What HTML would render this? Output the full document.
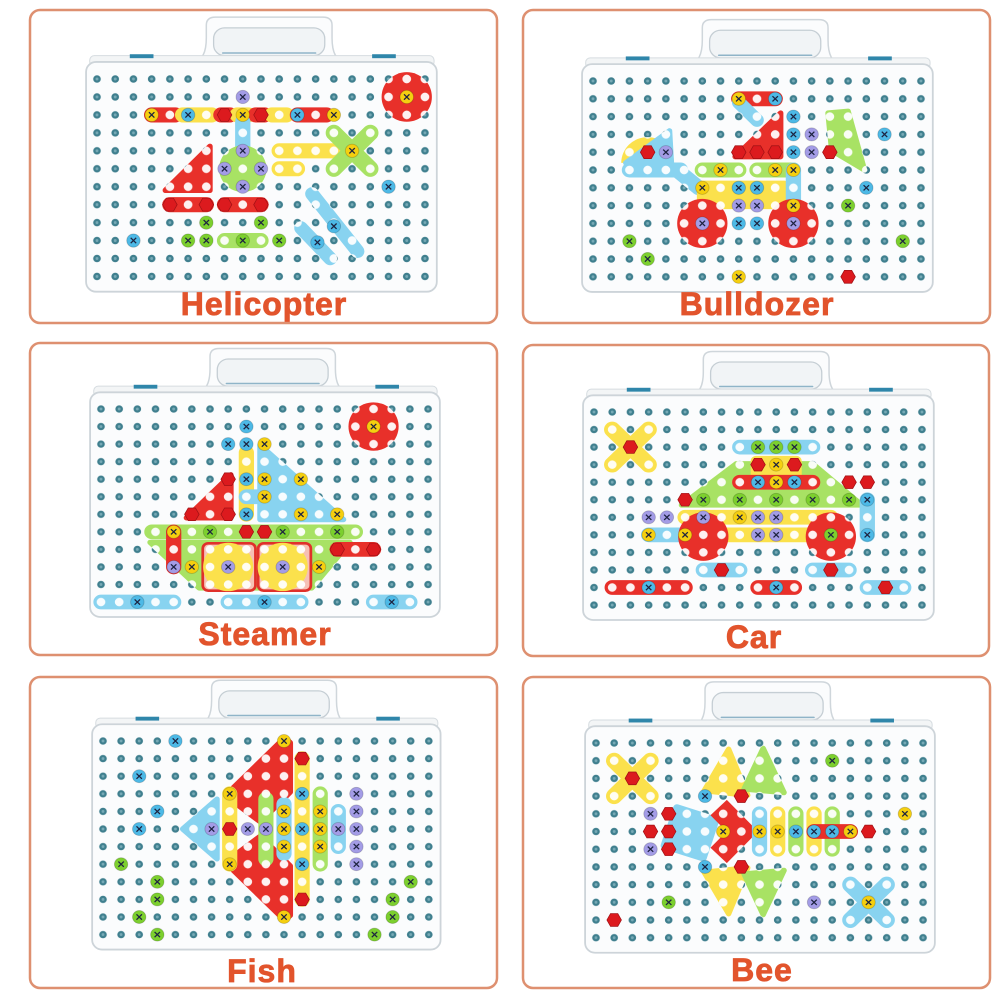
<!DOCTYPE html>
<html><head><meta charset="utf-8"><style>
html,body{margin:0;padding:0;background:#fff;}
svg{display:block}
line{stroke-width:.84;stroke-linecap:round}
.lr{stroke:#e8302a}.ly{stroke:#fbe14c}.lg{stroke:#a8e264}.lc{stroke:#88d3f0}
.r{fill:#e8302a}.y{fill:#fbe14c}.g{fill:#a8e264}.c{fill:#88d3f0}
.pr{fill:#e8302a;stroke:#e8302a;stroke-width:.3;stroke-linejoin:round}
.py{fill:#fbe14c;stroke:#fbe14c;stroke-width:.3;stroke-linejoin:round}
.pg{fill:#a8e264;stroke:#a8e264;stroke-width:.3;stroke-linejoin:round}
.pc{fill:#88d3f0;stroke:#88d3f0;stroke-width:.3;stroke-linejoin:round}
.sy{fill:#f5cf10}.sc{fill:#4db9e6}.sg{fill:#7ccf2e}.sp{fill:#a39ce6}
.bd{fill:none;stroke:#de9070;stroke-width:2.5}
.lb{font-family:"Liberation Sans",sans-serif;font-weight:bold;font-size:32px;fill:#e2542c;stroke:#e2542c;stroke-width:.8px;letter-spacing:1px}
</style></head><body>
<svg width="1000" height="1000" viewBox="0 0 1000 1000" xmlns="http://www.w3.org/2000/svg">
<defs>
<pattern id="dots" patternUnits="userSpaceOnUse" x="-0.5" y="-0.5" width="1" height="1"><circle cx=".5" cy=".5" r=".21" fill="#3f7f8e"/><circle cx=".5" cy=".5" r=".08" fill="#77aab6"/></pattern>
<pattern id="hp" patternUnits="userSpaceOnUse" x="-0.5" y="-0.5" width="1" height="1"><rect width="1" height="1" fill="#fff"/><circle cx=".5" cy=".5" r=".24" fill="#111"/></pattern>
<mask id="holes" maskUnits="userSpaceOnUse" x="-4" y="-5" width="28" height="20"><rect x="-4" y="-5" width="28" height="20" fill="url(#hp)"/></mask>
<filter id="wh"><feFlood flood-color="#ffffff"/><feComposite in2="SourceAlpha" operator="in"/></filter>
<g id="s"><circle r=".37" stroke="rgba(0,0,0,.18)" stroke-width=".05"/><path d="M-.15-.15L.15.15M.15-.15L-.15.15" stroke="#1d2340" stroke-width=".07" fill="none"/></g>
<polygon id="n" points=".4,0 .2,.36 -.2,.36 -.4,0 -.2,-.36 .2,-.36" fill="#dc1a1e" stroke="#a01014" stroke-width=".04"/>
<g id="case">
<path d="M5.2,-0.9 C5.8,-1.0 6.0,-1.5 6.0,-2.3 L6.0,-3.0 Q6.0,-3.45 6.5,-3.45 L12.4,-3.45 Q12.9,-3.45 12.9,-3.0 L12.9,-2.3 C12.9,-1.5 13.1,-1.0 13.7,-0.9 Z" fill="#fbfcfd" stroke="#cfd6db" stroke-width="1.5" vector-effect="non-scaling-stroke"/>
<rect x="6.4" y="-2.85" width="6.1" height="1.55" rx=".6" fill="#f1f4f6" stroke="#c5ced4" stroke-width="1.3" vector-effect="non-scaling-stroke"/>
<line x1="6.9" y1="-1.45" x2="12" y2="-1.45" style="stroke:#8fb4c8;stroke-width:1.5px" vector-effect="non-scaling-stroke"/>
<rect x="-0.4" y="-1.3" width="18.9" height=".6" rx=".25" fill="#f3f5f6" stroke="#d6dce0" stroke-width="1" vector-effect="non-scaling-stroke"/>
<rect x="1.8" y="-1.38" width="1.3" height=".22" fill="#2f86aa"/>
<rect x="15.1" y="-1.38" width="1.3" height=".22" fill="#2f86aa"/>
<rect x="-0.6" y="-0.95" width="19.25" height="12.8" rx=".55" fill="#fbfcfd" stroke="#cdd4d9" stroke-width="1.8" vector-effect="non-scaling-stroke"/>
<rect x="-0.5" y="-0.5" width="19" height="12" fill="url(#dots)"/>
</g>
</defs>

<rect class="bd" x="30" y="10" width="467" height="313" rx="10"/>
<rect class="bd" x="523" y="10" width="467" height="313" rx="10"/>
<rect class="bd" x="30" y="343" width="467" height="312" rx="10"/>
<rect class="bd" x="523" y="345" width="466" height="311" rx="10"/>
<rect class="bd" x="30" y="677" width="467" height="311" rx="10"/>
<rect class="bd" x="523" y="677" width="467" height="311" rx="10"/>

<!-- P1 Helicopter -->
<g transform="translate(97,79) scale(18.22,17.95)">
<use href="#case"/>
<defs><g id="pc1">
<circle class="r" cx="17" cy="1" r="1.38"/>
<line class="lr" x1="3" y1="2" x2="4.3" y2="2"/>
<line class="ly" x1="4.7" y1="2" x2="6.3" y2="2"/>
<line class="lr" x1="6.8" y1="2" x2="7.3" y2="2"/>
<line class="ly" x1="7.7" y1="2" x2="8.3" y2="2"/>
<line class="lr" x1="8.7" y1="2" x2="9.2" y2="2"/>
<line class="ly" x1="9.6" y1="2" x2="10.4" y2="2"/>
<line class="lr" x1="11" y1="2" x2="12.6" y2="2"/>
<line class="lc" x1="8" y1="2.4" x2="8" y2="4.3"/>
<line class="ly" x1="10" y1="4" x2="13" y2="4"/>
<line class="ly" x1="10" y1="5" x2="11" y2="5"/>
<line class="lg" x1="13" y1="3" x2="15" y2="5" style="stroke-width:.9"/>
<line class="lg" x1="15" y1="3" x2="13" y2="5" style="stroke-width:.9"/>
<circle class="g" cx="8" cy="5" r="1.3"/>
<polygon class="pr" points="3.75,6.2 6.2,6.2 6.2,3.75"/>
<line class="lr" x1="4" y1="7" x2="6" y2="7"/>
<line class="lr" x1="7" y1="7" x2="9" y2="7"/>
<line class="lg" x1="7" y1="9" x2="9" y2="9"/>
<line class="lc" x1="11.8" y1="6.4" x2="14.3" y2="9.6" style="stroke-width:.75"/>
<line class="lc" x1="11.2" y1="8.3" x2="12.8" y2="10" style="stroke-width:.75"/>
</g></defs>
<use href="#pc1" filter="url(#wh)"/><use href="#pc1" mask="url(#holes)"/>
<use href="#s" class="sp" x="8" y="1"/>
<use href="#s" class="sy" x="3" y="2"/><use href="#s" class="sc" x="5" y="2"/><use href="#n" x="7" y="2"/><use href="#s" class="sy" x="8" y="2"/><use href="#n" x="9" y="2"/><use href="#s" class="sc" x="11" y="2"/><use href="#s" class="sy" x="13" y="2"/>
<use href="#s" class="sp" x="8" y="4"/><use href="#s" class="sp" x="7" y="5"/><use href="#s" class="sp" x="9" y="5"/><use href="#s" class="sp" x="8" y="6"/>
<use href="#s" class="sy" x="14" y="4"/><use href="#s" class="sy" x="17" y="1"/>
<use href="#n" x="4" y="7"/><use href="#n" x="6" y="7"/><use href="#n" x="7" y="7"/><use href="#n" x="9" y="7"/>
<use href="#s" class="sg" x="6" y="8"/><use href="#s" class="sg" x="9" y="8"/><use href="#s" class="sg" x="5" y="9"/><use href="#s" class="sg" x="6" y="9"/><use href="#s" class="sg" x="8" y="9"/><use href="#s" class="sg" x="10" y="9"/>
<use href="#s" class="sc" x="2" y="9"/><use href="#s" class="sc" x="16" y="6"/><use href="#s" class="sc" x="13" y="8.2"/><use href="#s" class="sc" x="12.1" y="9.1"/>
</g>
<text class="lb" x="264" y="315" text-anchor="middle">Helicopter</text>

<!-- P2 Bulldozer -->
<g transform="translate(593,81) scale(18.22,17.8)">
<use href="#case"/>
<defs><g id="pc2">
<path class="y" d="M1.55,4.6 A1.45,1.45 0 0 1 4.45,4.6 Z"/>
<polygon class="pc" points="1.8,4.6 4.2,2.8 4.3,4.6"/>
<line class="lc" x1="2" y1="5" x2="4.8" y2="5"/>
<line class="lc" x1="4.6" y1="5" x2="5.8" y2="6"/>
<line class="lr" x1="8" y1="1" x2="10" y2="1"/>
<line class="lc" x1="8" y1="1.2" x2="9" y2="2.2" style="stroke-width:.75"/>
<polygon class="pr" points="7.8,4.25 10.3,4.25 10.3,1.8"/>
<polygon class="pg" points="12.9,1.8 14.0,1.7 14.9,5.0 13.1,3.9"/>
<line class="lg" x1="6" y1="5" x2="8" y2="5"/>
<line class="lg" x1="9" y1="5" x2="11" y2="5"/>
<rect class="y" x="5.7" y="5.6" width="5.1" height="1.6" rx=".3"/>
<line class="lc" x1="11" y1="5" x2="11" y2="7"/>
<circle class="r" cx="6" cy="8" r="1.38"/>
<circle class="r" cx="11" cy="8" r="1.38"/>
</g></defs>
<use href="#pc2" filter="url(#wh)"/><use href="#pc2" mask="url(#holes)"/>
<use href="#s" class="sy" x="8" y="1"/><use href="#s" class="sc" x="10" y="1"/>
<use href="#n" x="8" y="4"/><use href="#n" x="9" y="4"/><use href="#n" x="10" y="4"/>
<use href="#s" class="sc" x="11" y="2"/><use href="#s" class="sc" x="11" y="3"/><use href="#s" class="sc" x="11" y="4"/>
<use href="#s" class="sp" x="12" y="3"/><use href="#s" class="sp" x="12" y="4"/><use href="#n" x="13" y="4"/>
<use href="#s" class="sc" x="16" y="3"/><use href="#s" class="sc" x="15" y="6"/>
<use href="#s" class="sg" x="14" y="7"/><use href="#s" class="sg" x="17" y="9"/><use href="#s" class="sg" x="2" y="9"/><use href="#s" class="sg" x="3" y="10"/>
<use href="#s" class="sy" x="8" y="11"/><use href="#n" x="14" y="11"/>
<use href="#n" x="3" y="4"/><use href="#s" class="sp" x="4" y="4"/>
<use href="#s" class="sy" x="7" y="5"/><use href="#s" class="sy" x="10" y="5"/><use href="#s" class="sy" x="11" y="5"/>
<use href="#s" class="sy" x="6" y="6"/><use href="#s" class="sc" x="8" y="6"/><use href="#s" class="sc" x="9" y="6"/>
<use href="#s" class="sp" x="8" y="7"/><use href="#s" class="sp" x="9" y="7"/>
<use href="#s" class="sc" x="8" y="8"/><use href="#s" class="sc" x="9" y="8"/>
<use href="#s" class="sy" x="11" y="7"/><use href="#s" class="sp" x="6" y="8"/><use href="#s" class="sp" x="11" y="8"/>
</g>
<text class="lb" x="757" y="315" text-anchor="middle">Bulldozer</text>

<!-- P3 Steamer -->
<g transform="translate(101,409) scale(18.17,17.55)">
<use href="#case"/>
<defs><g id="pc3">
<circle class="r" cx="15" cy="1" r="1.38"/>
<line class="ly" x1="8" y1="2.5" x2="8" y2="6"/>
<polygon class="pc" points="8.75,2.05 8.75,6.3 13.35,6.3"/>
<line class="lc" x1="8" y1="5" x2="10" y2="5"/>
<polygon class="pr" points="4.7,6.2 7.15,6.2 7.15,3.75"/>
<polygon class="pg" points="2.7,7.6 13.7,7.6 11.6,10.2 5.4,10.2"/>
<line class="lg" x1="2.8" y1="7" x2="14" y2="7"/>
<line class="lr" x1="4" y1="7" x2="4" y2="9"/>
<rect x="5.6" y="7.65" width="2.9" height="2.7" rx=".3" fill="#f6c0b4" stroke="#e0302a" stroke-width=".15"/>
<rect x="8.65" y="7.65" width="2.9" height="2.7" rx=".3" fill="#f6c0b4" stroke="#e0302a" stroke-width=".15"/>
<circle class="y" cx="7" cy="9" r="1.38"/>
<circle class="y" cx="10" cy="9" r="1.38"/>
<line class="lr" x1="13" y1="8" x2="15" y2="8"/>
<line class="lc" x1="0" y1="11" x2="4" y2="11"/>
<line class="lc" x1="7" y1="11" x2="11" y2="11"/>
<line class="lc" x1="15" y1="11" x2="17" y2="11"/>
</g></defs>
<use href="#pc3" filter="url(#wh)"/><use href="#pc3" mask="url(#holes)"/>
<use href="#s" class="sy" x="15" y="1"/>
<use href="#s" class="sc" x="8" y="1"/><use href="#s" class="sc" x="7" y="2"/><use href="#s" class="sc" x="8" y="2"/><use href="#s" class="sy" x="9" y="2"/>
<use href="#s" class="sc" x="8" y="4"/><use href="#s" class="sc" x="8" y="6"/>
<use href="#s" class="sy" x="9" y="4"/><use href="#s" class="sy" x="11" y="4"/><use href="#s" class="sy" x="9" y="5"/><use href="#s" class="sy" x="11" y="6"/><use href="#s" class="sy" x="13" y="6"/>
<use href="#n" x="7" y="4"/><use href="#n" x="5" y="6"/><use href="#n" x="7" y="6"/>
<use href="#s" class="sy" x="4" y="7"/><use href="#s" class="sp" x="4" y="9"/><use href="#s" class="sy" x="5" y="9"/>
<use href="#s" class="sg" x="6" y="7"/><use href="#n" x="8" y="7"/><use href="#n" x="9" y="7"/><use href="#s" class="sg" x="10" y="7"/><use href="#s" class="sg" x="13" y="7"/>
<use href="#s" class="sp" x="7" y="9"/><use href="#s" class="sp" x="10" y="9"/><use href="#s" class="sy" x="12" y="9"/>
<use href="#n" x="13" y="8"/><use href="#n" x="15" y="8"/>
<use href="#s" class="sc" x="2" y="11"/><use href="#s" class="sc" x="9" y="11"/><use href="#s" class="sc" x="16" y="11"/>
</g>
<text class="lb" x="265" y="645" text-anchor="middle">Steamer</text>

<!-- P4 Car -->
<g transform="translate(594,412) scale(18.22,17.55)">
<use href="#case"/>
<defs><g id="pc4">
<line class="ly" x1="1" y1="1" x2="3" y2="3" style="stroke-width:.9"/>
<line class="ly" x1="3" y1="1" x2="1" y2="3" style="stroke-width:.9"/>
<line class="lc" x1="8" y1="2" x2="12" y2="2"/>
<polygon class="pg" points="4.8,5.3 7.8,2.95 12,2.95 14.7,5.3"/>
<rect class="y" x="8.6" y="2.5" width="2.8" height="1.6" rx=".3"/>
<line class="lr" x1="8" y1="4" x2="12" y2="4"/>
<line class="lc" x1="15" y1="5" x2="15" y2="7"/>
<line class="ly" x1="5" y1="6" x2="13" y2="6"/>
<line class="ly" x1="7" y1="7" x2="12" y2="7"/>
<line class="lc" x1="3" y1="7" x2="5" y2="7"/>
<circle class="r" cx="6" cy="7.1" r="1.38"/>
<circle class="r" cx="13" cy="7.1" r="1.38"/>
<line class="lc" x1="6" y1="9" x2="8" y2="9"/>
<line class="lc" x1="12" y1="9" x2="14" y2="9"/>
<line class="lr" x1="1" y1="10" x2="5" y2="10"/>
<line class="lr" x1="9" y1="10" x2="11" y2="10"/>
<line class="lc" x1="15" y1="10" x2="17" y2="10"/>
</g></defs>
<use href="#pc4" filter="url(#wh)"/><use href="#pc4" mask="url(#holes)"/>
<use href="#n" x="2" y="2"/>
<use href="#s" class="sg" x="9" y="2"/><use href="#s" class="sg" x="10" y="2"/><use href="#s" class="sg" x="11" y="2"/>
<use href="#n" x="9" y="3"/><use href="#s" class="sy" x="10" y="3"/><use href="#n" x="11" y="3"/>
<use href="#s" class="sc" x="9" y="4"/><use href="#s" class="sy" x="10" y="4"/><use href="#s" class="sc" x="11" y="4"/>
<use href="#n" x="14" y="4"/><use href="#n" x="15" y="4"/><use href="#n" x="5" y="5"/>
<use href="#s" class="sg" x="6" y="5"/><use href="#s" class="sg" x="8" y="5"/><use href="#s" class="sg" x="10" y="5"/><use href="#s" class="sg" x="12" y="5"/><use href="#s" class="sg" x="14" y="5"/>
<use href="#s" class="sc" x="15" y="5"/><use href="#s" class="sc" x="15" y="7"/>
<use href="#s" class="sp" x="3" y="6"/><use href="#s" class="sp" x="4" y="6"/><use href="#s" class="sy" x="3" y="7"/><use href="#s" class="sy" x="5" y="7"/>
<use href="#s" class="sp" x="6" y="6"/><use href="#s" class="sy" x="8" y="6"/>
<use href="#s" class="sp" x="9" y="6"/><use href="#s" class="sp" x="10" y="6"/><use href="#s" class="sp" x="9" y="7"/><use href="#s" class="sp" x="10" y="7"/>
<use href="#s" class="sg" x="13" y="7"/>
<use href="#n" x="7" y="9"/><use href="#n" x="13" y="9"/>
<use href="#s" class="sc" x="3" y="10"/><use href="#s" class="sc" x="10" y="10"/><use href="#n" x="16" y="10"/>
</g>
<text class="lb" x="754" y="648" text-anchor="middle">Car</text>

<!-- P5 Fish -->
<g transform="translate(103,741) scale(18.1,17.6)">
<use href="#case"/>
<defs><g id="pc5">
<polygon class="pc" points="4.4,5 6.3,3.3 6.3,6.7"/>
<polygon class="pr" points="10.05,-0.2 10.35,0.1 10.35,2.9 8.7,4.6 6.75,3.1"/>
<polygon class="pr" points="10.05,10.2 10.35,9.9 10.35,7.1 8.7,5.4 6.75,6.9"/>
<line class="ly" x1="7" y1="3" x2="7" y2="7"/>
<line class="ly" x1="11" y1="1" x2="11" y2="9"/>
<line class="lg" x1="9" y1="3.3" x2="9" y2="6.7"/>
<line class="lc" x1="10" y1="3.6" x2="10" y2="6.4"/>
<line class="lg" x1="12" y1="3" x2="12" y2="7"/>
<line class="lc" x1="13" y1="4" x2="13" y2="6"/>
</g></defs>
<use href="#pc5" filter="url(#wh)"/><use href="#pc5" mask="url(#holes)"/>
<use href="#s" class="sc" x="4" y="0"/><use href="#s" class="sc" x="2" y="2"/><use href="#s" class="sc" x="3" y="4"/><use href="#s" class="sc" x="2" y="5"/>
<use href="#s" class="sg" x="1" y="7"/><use href="#s" class="sg" x="3" y="8"/><use href="#s" class="sg" x="3" y="9"/><use href="#s" class="sg" x="2" y="10"/><use href="#s" class="sg" x="3" y="11"/>
<use href="#s" class="sg" x="17" y="8"/><use href="#s" class="sg" x="16" y="9"/><use href="#s" class="sg" x="16" y="10"/><use href="#s" class="sg" x="15" y="11"/>
<use href="#n" x="11" y="1"/><use href="#n" x="11" y="9"/>
<use href="#s" class="sy" x="10" y="0"/><use href="#s" class="sy" x="10" y="10"/>
<use href="#s" class="sy" x="7" y="3"/><use href="#s" class="sy" x="7" y="7"/><use href="#n" x="7" y="5"/>
<use href="#s" class="sp" x="6" y="5"/><use href="#s" class="sp" x="8" y="5"/><use href="#s" class="sp" x="9" y="5"/>
<use href="#s" class="sy" x="10" y="4"/><use href="#s" class="sy" x="10" y="5"/><use href="#s" class="sy" x="10" y="6"/>
<use href="#s" class="sc" x="11" y="3"/><use href="#s" class="sc" x="11" y="5"/><use href="#s" class="sc" x="11" y="7"/>
<use href="#s" class="sy" x="12" y="4"/><use href="#s" class="sy" x="12" y="5"/><use href="#s" class="sy" x="12" y="6"/>
<use href="#s" class="sp" x="13" y="5"/>
<use href="#s" class="sp" x="14" y="3"/><use href="#s" class="sp" x="14" y="4"/><use href="#s" class="sp" x="14" y="5"/><use href="#s" class="sp" x="14" y="6"/><use href="#s" class="sp" x="14" y="7"/>
</g>
<text class="lb" x="262" y="982" text-anchor="middle">Fish</text>

<!-- P6 Bee -->
<g transform="translate(596,743) scale(18.17,17.7)">
<use href="#case"/>
<defs><g id="pc6">
<line class="ly" x1="1" y1="1" x2="3" y2="3" style="stroke-width:.9"/>
<line class="ly" x1="3" y1="1" x2="1" y2="3" style="stroke-width:.9"/>
<polygon class="py" points="7.3,0.35 5.95,2.7 8.35,2.95"/>
<polygon class="pg" points="9.2,0.3 8.15,2.6 10.35,2.8"/>
<polygon class="py" points="7.3,9.65 5.95,7.3 8.35,7.05"/>
<polygon class="pg" points="9.2,9.7 8.15,7.4 10.35,7.2"/>
<rect class="c" x="3.85" y="3.75" width="2.65" height="2.65" rx=".2" transform="rotate(18 5.17 5.07)"/>
<polyline points="6.75,3.65 8.05,5 6.75,6.35" fill="none" stroke="#e8302a" stroke-width="1.25" stroke-linejoin="miter"/>
<line class="lc" x1="9" y1="4" x2="9" y2="6"/>
<line class="ly" x1="10" y1="4" x2="10" y2="6"/>
<line class="lg" x1="11" y1="4" x2="11" y2="6"/>
<line class="ly" x1="12" y1="4" x2="12" y2="6"/>
<line class="lg" x1="13" y1="4" x2="13" y2="6"/>
<line class="lr" x1="12" y1="5" x2="14" y2="5"/>
<line class="lc" x1="14" y1="8" x2="16" y2="10" style="stroke-width:.9"/>
<line class="lc" x1="16" y1="8" x2="14" y2="10" style="stroke-width:.9"/>
</g></defs>
<use href="#pc6" filter="url(#wh)"/><use href="#pc6" mask="url(#holes)"/>
<use href="#n" x="2" y="2"/><use href="#s" class="sg" x="13" y="1"/>
<use href="#s" class="sc" x="6" y="3"/><use href="#s" class="sc" x="6" y="7"/><use href="#n" x="8" y="3"/><use href="#n" x="8" y="7"/>
<use href="#s" class="sp" x="3" y="4"/><use href="#s" class="sp" x="3" y="6"/>
<use href="#n" x="4" y="4"/><use href="#n" x="3" y="5"/><use href="#n" x="4" y="5"/><use href="#n" x="4" y="6"/>
<use href="#s" class="sy" x="7" y="5"/>
<use href="#s" class="sy" x="9" y="5"/><use href="#s" class="sy" x="10" y="5"/><use href="#s" class="sc" x="11" y="5"/><use href="#s" class="sc" x="12" y="5"/><use href="#s" class="sc" x="13" y="5"/><use href="#s" class="sy" x="14" y="5"/><use href="#n" x="15" y="5"/>
<use href="#s" class="sy" x="17" y="4"/>
<use href="#s" class="sg" x="4" y="9"/><use href="#s" class="sp" x="12" y="9"/><use href="#n" x="1" y="10"/>
<use href="#s" class="sy" x="15" y="9"/>
</g>
<text class="lb" x="762" y="981" text-anchor="middle">Bee</text>
</svg>
</body></html>
